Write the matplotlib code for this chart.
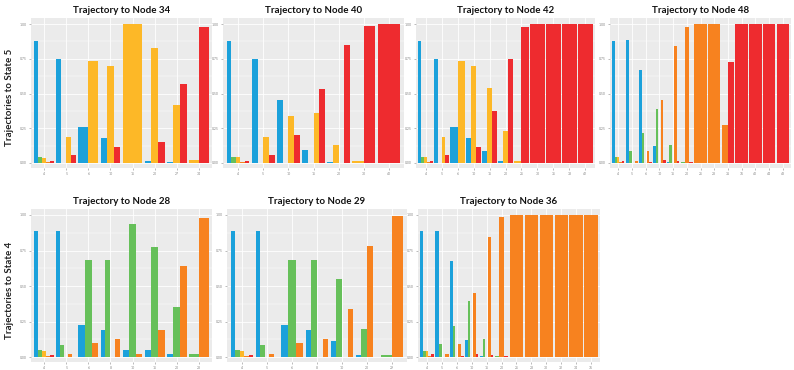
import numpy as np
import matplotlib
matplotlib.use("Agg")
import matplotlib.pyplot as plt

plt.rcParams['font.family'] = ['Lato', 'DejaVu Sans']

# ======== data: one list per state, None = state absent in that step ========
colors = ['#1BA1DB', '#66C05A', '#FDB827', '#F7821F', '#EE2B2F']
N = None

# Trajectories to State 5
n34_labels = ['4', '5', '6', '10', '15', '20', '27', '34']
n34_blue = [.88, .75, .26, .177, N, .014, .005, N]
n34_green = [.04, 0, N, N, N, N, N, N]
n34_yellow = [.036, .185, .736, .70, 1.0, .83, .42, .02]
n34_orange = [.01, N, N, N, N, N, N, N]
n34_red = [.017, .055, N, .117, N, .15, .57, .976]

n40_labels = ['4', '5', '10', '15', '20', '30', '40']
n40_blue = [.88, .75, .455, .096, .01, N, N]
n40_green = [.04, 0, .003, .003, N, N, N]
n40_yellow = [.04, .185, .34, .36, .13, .015, N]
n40_orange = [.01, N, N, N, 0, N, N]
n40_red = [.017, .058, .2, .53, .85, .985, 1.0]

n42_labels = ['4', '5', '6', '10', '15', '20', '25', '30', '35', '38', '42']
n42_blue = [.88, .75, .26, .177, .084, .012, N, N, N, N, N]
n42_green = [.04, 0, N, N, N, N, N, N, N, N, N]
n42_yellow = [.04, .185, .736, .70, .537, .228, .017, N, N, N, N]
n42_orange = [.01, N, N, N, N, N, N, N, N, N, N]
n42_red = [.015, .058, N, .117, .376, .75, .98, 1, 1, 1, 1]

n48_labels = ['4', '5', '6', '10', '15', '20', '25', '28', '31', '36', '40', '44', '48']
n48_blue = [.88, .885, .67, .12, .01, N, N, N, N, N, N, N, N]
n48_green = [.04, .084, .216, .39, .127, .01, N, N, N, N, N, N, N]
n48_yellow = [.04, 0, 0, 0, 0, N, N, N, N, N, N, N, N]
n48_orange = [.01, .017, .089, .45, .844, .98, 1, 1, .27, N, N, N, N]
n48_red = [.015, N, .01, .024, .012, .005, N, N, .73, 1, 1, 1, 1]

# Trajectories to State 4
n28_labels = ['4', '5', '6', '8', '10', '15', '20', '28']
n28_blue = [.887, .887, .224, .193, .05, .047, .019, N]
n28_green = [.047, .087, .68, .68, .94, .774, .35, .019]
n28_yellow = [.045, 0, N, .002, N, N, N, N]
n28_orange = [.01, .019, .099, .13, .019, .19, .64, .98]
n28_red = [.016, .002, N, N, N, N, N, N]

n29_labels = ['4', '5', '6', '8', '10', '20', '29']
n29_blue = [.886, .886, .225, .19, .11, .017, N]
n29_green = [.047, .088, .68, .68, .547, .2, .012]
n29_yellow = [.045, 0, N, .002, .002, N, N]
n29_orange = [.01, .019, .1, .128, .34, .78, .99]
n29_red = [.016, .002, N, N, N, .002, N]

n36_labels = ['4', '5', '6', '10', '15', '20', '25', '28', '30', '32', '34', '36']
n36_blue = [.885, .887, .674, .12, .01, N, N, N, N, N, N, N]
n36_green = [.045, .089, .22, .396, .127, .01, N, N, N, N, N, N]
n36_yellow = [.045, 0, 0, 0, 0, N, N, N, N, N, N, N]
n36_orange = [.01, .019, .09, .45, .846, .983, 1, 1, 1, 1, 1, 1]
n36_red = [.018, N, .01, .024, .012, .005, N, N, N, N, N, N]

panels = [
    ('Trajectory to Node 34', n34_labels, [n34_blue, n34_green, n34_yellow, n34_orange, n34_red], 0, 31, 212),
    ('Trajectory to Node 40', n40_labels, [n40_blue, n40_green, n40_yellow, n40_orange, n40_red], 0, 223, 404),
    ('Trajectory to Node 42', n42_labels, [n42_blue, n42_green, n42_yellow, n42_orange, n42_red], 0, 416, 595),
    ('Trajectory to Node 48', n48_labels, [n48_blue, n48_green, n48_yellow, n48_orange, n48_red], 0, 610, 791),
    ('Trajectory to Node 28', n28_labels, [n28_blue, n28_green, n28_yellow, n28_orange, n28_red], 1, 31, 212),
    ('Trajectory to Node 29', n29_labels, [n29_blue, n29_green, n29_yellow, n29_orange, n29_red], 1, 227, 407),
    ('Trajectory to Node 36', n36_labels, [n36_blue, n36_green, n36_yellow, n36_orange, n36_red], 1, 418, 600),
]

W, H = 794, 370
fig = plt.figure(figsize=(W / 100, H / 100), dpi=100)
fig.patch.set_facecolor('white')

ylo, yhi = -0.035, 1.04
# pixel rows of 1.00 and 0.00 for each row of panels
rows = [(24, 163), (215, 357)]

for title, labels, series, row, x0, x1 in panels:
    p1, p0 = rows[row]
    ppu = p0 - p1
    top = p1 - (yhi - 1) * ppu
    bot = p0 - ylo * ppu
    ax = fig.add_axes([x0 / W, 1 - bot / H, (x1 - x0) / W, (bot - top) / H])
    ax.set_facecolor('#EBEBEB')
    n = len(labels)
    for i in range(n):
        present = [(s, series[s][i]) for s in range(5) if series[s][i] is not None]
        k = len(present)
        w = 0.9 / k
        for j, (s, v) in enumerate(present):
            ax.bar(i - 0.45 + w * (j + 0.5), v, width=w, color=colors[s], linewidth=0)
    ax.set_xlim(-0.6, n - 0.4)
    ax.set_ylim(ylo, yhi)
    ax.set_xticks(range(n))
    ax.set_xticklabels(labels)
    ax.set_yticks([0, 0.25, 0.5, 0.75, 1.0])
    ax.set_yticklabels(['0.00', '0.25', '0.50', '0.75', '1.00'])
    ax.set_yticks([0.125, 0.375, 0.625, 0.875], minor=True)
    ax.grid(True, which='major', color='white', linewidth=0.6)
    ax.grid(True, which='minor', axis='y', color='white', linewidth=0.3)
    ax.set_axisbelow(True)
    ax.tick_params(axis='both', which='major', labelsize=2.5, colors='#888888',
                   length=1.5, width=0.4, pad=1.5)
    ax.tick_params(axis='y', which='minor', length=0)
    for sp in ax.spines.values():
        sp.set_visible(False)
    ax.set_title(title, fontsize=7, fontweight='bold', color='#111111', pad=4)

fig.text(10 / W, 1 - 97 / H, 'Trajectories to State 5', rotation=90, ha='center', va='center',
         fontsize=7, fontweight='bold', color='#222222')
fig.text(10 / W, 1 - 290 / H, 'Trajectories to State 4', rotation=90, ha='center', va='center',
         fontsize=7, fontweight='bold', color='#222222')

fig.savefig('out.png', dpi=100)
